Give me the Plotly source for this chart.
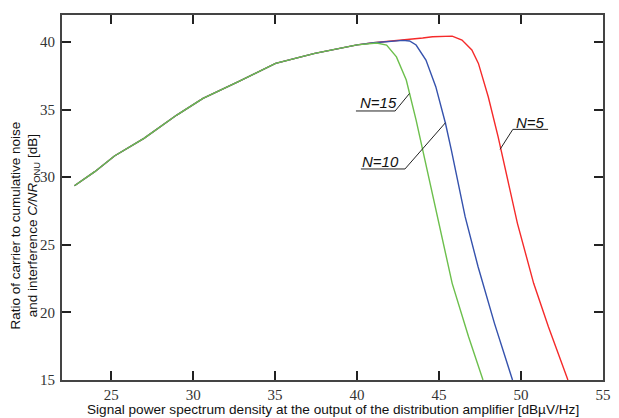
import plotly.graph_objects as go

# ---- data ----
green_x = [22.76, 24.0, 25.2, 27.0, 29.0, 30.6, 32.76, 35.03, 37.42, 40.0, 41.2, 41.8, 42.4, 43.0, 43.6, 44.0, 44.8, 45.8, 46.8, 47.68]
green_y = [29.37, 30.41, 31.57, 32.87, 34.6, 35.83, 37.07, 38.42, 39.16, 39.79, 39.93, 39.77, 38.9, 37.19, 34.23, 32.0, 27.57, 22.15, 18.2, 15.0]

blue_x = [22.76, 24.0, 25.2, 27.0, 29.0, 30.6, 32.76, 35.03, 37.42, 40.0, 41.0, 42.0, 42.8, 43.2, 43.6, 44.2, 44.8, 45.39, 45.75, 46.59, 47.38, 48.38, 49.48]
blue_y = [29.37, 30.41, 31.57, 32.87, 34.6, 35.83, 37.07, 38.42, 39.16, 39.79, 39.95, 40.05, 40.12, 40.08, 39.78, 38.67, 36.7, 33.99, 32.0, 27.08, 23.38, 19.19, 15.0]

red_x = [22.76, 24.0, 25.2, 27.0, 29.0, 30.6, 32.76, 35.03, 37.42, 40.0, 41.0, 42.0, 43.0, 44.0, 44.6, 45.8, 46.4, 47.0, 47.4, 48.0, 48.6, 48.88, 49.78, 50.77, 51.67, 52.86]
red_y = [29.37, 30.41, 31.57, 32.87, 34.6, 35.83, 37.07, 38.42, 39.16, 39.79, 39.95, 40.05, 40.15, 40.3, 40.39, 40.44, 40.15, 39.41, 38.42, 35.95, 33.0, 31.5, 26.59, 22.15, 18.94, 15.0]

x_ticks = [25, 30, 35, 40, 45, 50, 55]
y_ticks = [15, 20, 25, 30, 35, 40]

labels = ["N=5", "N=10", "N=15"]

GREEN = "#6cbf4c"
BLUE = "#3552ad"
RED = "#f52a2a"

fig = go.Figure()
fig.add_trace(go.Scatter(x=red_x, y=red_y, mode="lines", line=dict(color=RED, width=1.4), name=labels[0]))
fig.add_trace(go.Scatter(x=blue_x, y=blue_y, mode="lines", line=dict(color=BLUE, width=1.4), name=labels[1]))
fig.add_trace(go.Scatter(x=green_x, y=green_y, mode="lines", line=dict(color=GREEN, width=1.4), name=labels[2]))

# leader lines for curve labels (underline + diagonal)
leaders = [
    # (x_start, x_end, y_underline, x_curve, y_curve, text_x, text_y, label)
    (39.93, 42.32, 34.90, 43.2, 36.2, 41.3, 35.5, labels[2]),
    (40.23, 42.92, 30.61, 45.39, 34.03, 41.4, 31.15, labels[1]),
    (51.65, 49.5, 33.54, 48.72, 32.06, 50.6, 34.05, labels[0]),
]
for xs, xe, yu, xc, yc, tx, ty, lab in leaders:
    fig.add_shape(type="line", xref="x", yref="y", x0=xs, x1=xe, y0=yu, y1=yu,
                  line=dict(color="#222222", width=1))
    fig.add_shape(type="line", xref="x", yref="y", x0=xe, x1=xc, y0=yu, y1=yc,
                  line=dict(color="#222222", width=1))
    fig.add_annotation(x=tx, y=ty, xref="x", yref="y", text="<i>" + lab + "</i>",
                       showarrow=False, xanchor="center", yanchor="middle",
                       font=dict(family="Liberation Sans", size=15, color="#111111"))

axis_common = dict(
    showgrid=False, zeroline=False, showline=True, linecolor="#444444", linewidth=2,
    mirror="allticks", ticks="inside", ticklen=9, tickwidth=1.5, tickcolor="#222222",
    tickfont=dict(family="Liberation Serif", size=15, color="#333333"),
)

fig.update_layout(
    width=619, height=418,
    margin=dict(l=62, r=8, t=15, b=38),
    paper_bgcolor="white", plot_bgcolor="white",
    showlegend=False,
    xaxis=dict(range=[22, 55], tickvals=x_ticks, **axis_common),
    yaxis=dict(range=[15, 42], tickvals=y_ticks, ticklabelstandoff=2, **axis_common),
)

# axis titles
fig.add_annotation(
    xref="paper", yref="paper", x=(337 - 62) / 549, y=-(410 - 380) / 365,
    text="Signal power spectrum density at the output of the distribution amplifier [dBµV/Hz]",
    showarrow=False, xanchor="center", yanchor="middle",
    font=dict(family="Liberation Sans", size=13.6, color="#111111"))
fig.add_annotation(
    xref="paper", yref="paper", x=-(62 - 24) / 549, y=(380 - 226) / 365,
    text="Ratio of carrier to cumulative noise<br>and interference <i>C/NR</i><sub>ONU</sub> [dB]",
    textangle=-90, showarrow=False, xanchor="center", yanchor="middle",
    font=dict(family="Liberation Sans", size=13.5, color="#111111"))

fig.write_html("out.html", config={"displayModeBar": False},
               post_script="document.body.style.margin='0';document.body.style.padding='0';")
